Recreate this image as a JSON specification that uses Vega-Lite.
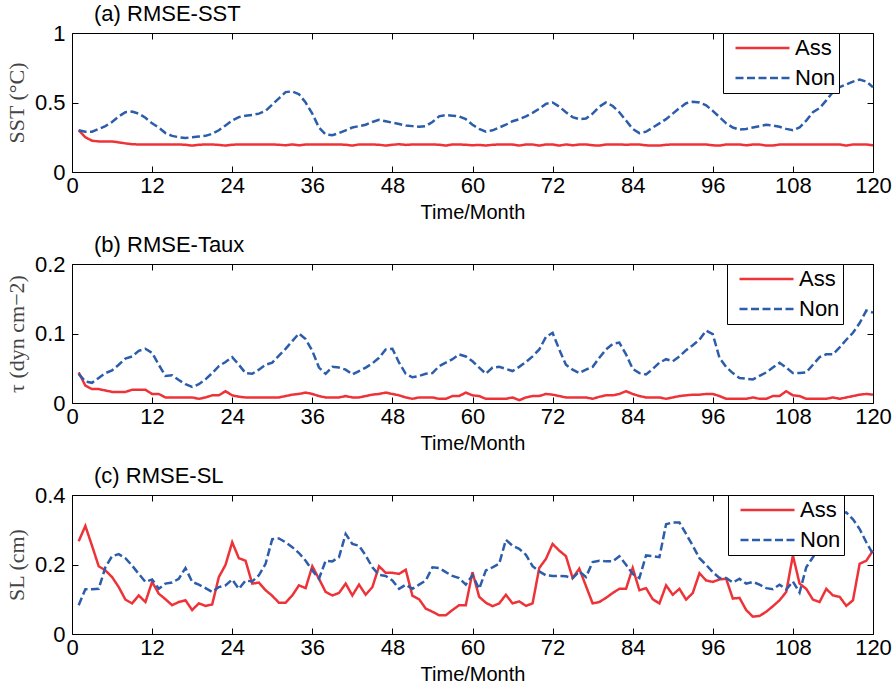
{
"$schema": "https://vega.github.io/schema/vega-lite/v6.json",
"padding": {"left": 5, "top": 3, "right": 0, "bottom": 0},
"spacing": 11,
"datasets": {
"sst": [
{"m":1,"Ass":0.30,"Non":0.30},{"m":2,"Ass":0.25,"Non":0.29},{"m":3,"Ass":0.225,"Non":0.29},{"m":4,"Ass":0.22,"Non":0.31},{"m":5,"Ass":0.22,"Non":0.33},{"m":6,"Ass":0.22,"Non":0.36},{"m":7,"Ass":0.213,"Non":0.40},{"m":8,"Ass":0.206,"Non":0.43},{"m":9,"Ass":0.20,"Non":0.435},{"m":10,"Ass":0.198,"Non":0.42},
{"m":11,"Ass":0.198,"Non":0.39},{"m":12,"Ass":0.198,"Non":0.35},{"m":13,"Ass":0.198,"Non":0.32},{"m":14,"Ass":0.198,"Non":0.28},{"m":15,"Ass":0.198,"Non":0.26},{"m":16,"Ass":0.198,"Non":0.25},{"m":17,"Ass":0.196,"Non":0.245},{"m":18,"Ass":0.19,"Non":0.25},{"m":19,"Ass":0.196,"Non":0.255},{"m":20,"Ass":0.198,"Non":0.26},
{"m":21,"Ass":0.198,"Non":0.275},{"m":22,"Ass":0.195,"Non":0.30},{"m":23,"Ass":0.19,"Non":0.335},{"m":24,"Ass":0.196,"Non":0.37},{"m":25,"Ass":0.198,"Non":0.395},{"m":26,"Ass":0.198,"Non":0.405},{"m":27,"Ass":0.198,"Non":0.41},{"m":28,"Ass":0.198,"Non":0.42},{"m":29,"Ass":0.198,"Non":0.44},{"m":30,"Ass":0.198,"Non":0.485},
{"m":31,"Ass":0.196,"Non":0.53},{"m":32,"Ass":0.192,"Non":0.575},{"m":33,"Ass":0.198,"Non":0.58},{"m":34,"Ass":0.192,"Non":0.56},{"m":35,"Ass":0.198,"Non":0.50},{"m":36,"Ass":0.198,"Non":0.42},{"m":37,"Ass":0.198,"Non":0.32},{"m":38,"Ass":0.198,"Non":0.27},{"m":39,"Ass":0.198,"Non":0.265},{"m":40,"Ass":0.198,"Non":0.28},
{"m":41,"Ass":0.196,"Non":0.30},{"m":42,"Ass":0.19,"Non":0.32},{"m":43,"Ass":0.198,"Non":0.33},{"m":44,"Ass":0.198,"Non":0.34},{"m":45,"Ass":0.198,"Non":0.36},{"m":46,"Ass":0.196,"Non":0.375},{"m":47,"Ass":0.19,"Non":0.365},{"m":48,"Ass":0.196,"Non":0.355},{"m":49,"Ass":0.2,"Non":0.345},{"m":50,"Ass":0.195,"Non":0.335},
{"m":51,"Ass":0.198,"Non":0.33},{"m":52,"Ass":0.198,"Non":0.325},{"m":53,"Ass":0.198,"Non":0.33},{"m":54,"Ass":0.198,"Non":0.36},{"m":55,"Ass":0.196,"Non":0.40},{"m":56,"Ass":0.19,"Non":0.41},{"m":57,"Ass":0.198,"Non":0.405},{"m":58,"Ass":0.198,"Non":0.40},{"m":59,"Ass":0.196,"Non":0.38},{"m":60,"Ass":0.192,"Non":0.34},
{"m":61,"Ass":0.195,"Non":0.31},{"m":62,"Ass":0.19,"Non":0.29},{"m":63,"Ass":0.196,"Non":0.30},{"m":64,"Ass":0.198,"Non":0.32},{"m":65,"Ass":0.198,"Non":0.34},{"m":66,"Ass":0.198,"Non":0.365},{"m":67,"Ass":0.19,"Non":0.38},{"m":68,"Ass":0.198,"Non":0.40},{"m":69,"Ass":0.198,"Non":0.425},{"m":70,"Ass":0.19,"Non":0.455},
{"m":71,"Ass":0.198,"Non":0.49},{"m":72,"Ass":0.198,"Non":0.50},{"m":73,"Ass":0.19,"Non":0.47},{"m":74,"Ass":0.198,"Non":0.43},{"m":75,"Ass":0.192,"Non":0.395},{"m":76,"Ass":0.198,"Non":0.38},{"m":77,"Ass":0.198,"Non":0.385},{"m":78,"Ass":0.192,"Non":0.42},{"m":79,"Ass":0.19,"Non":0.47},{"m":80,"Ass":0.198,"Non":0.50},
{"m":81,"Ass":0.198,"Non":0.475},{"m":82,"Ass":0.198,"Non":0.43},{"m":83,"Ass":0.196,"Non":0.37},{"m":84,"Ass":0.198,"Non":0.31},{"m":85,"Ass":0.198,"Non":0.28},{"m":86,"Ass":0.192,"Non":0.29},{"m":87,"Ass":0.19,"Non":0.32},{"m":88,"Ass":0.19,"Non":0.35},{"m":89,"Ass":0.196,"Non":0.38},{"m":90,"Ass":0.198,"Non":0.42},
{"m":91,"Ass":0.198,"Non":0.46},{"m":92,"Ass":0.198,"Non":0.495},{"m":93,"Ass":0.198,"Non":0.505},{"m":94,"Ass":0.198,"Non":0.50},{"m":95,"Ass":0.198,"Non":0.48},{"m":96,"Ass":0.192,"Non":0.44},{"m":97,"Ass":0.19,"Non":0.395},{"m":98,"Ass":0.198,"Non":0.35},{"m":99,"Ass":0.198,"Non":0.32},{"m":100,"Ass":0.198,"Non":0.305},
{"m":101,"Ass":0.192,"Non":0.31},{"m":102,"Ass":0.198,"Non":0.32},{"m":103,"Ass":0.198,"Non":0.33},{"m":104,"Ass":0.19,"Non":0.34},{"m":105,"Ass":0.19,"Non":0.335},{"m":106,"Ass":0.198,"Non":0.325},{"m":107,"Ass":0.198,"Non":0.31},{"m":108,"Ass":0.198,"Non":0.30},{"m":109,"Ass":0.198,"Non":0.32},{"m":110,"Ass":0.198,"Non":0.37},
{"m":111,"Ass":0.198,"Non":0.43},{"m":112,"Ass":0.198,"Non":0.46},{"m":113,"Ass":0.198,"Non":0.515},{"m":114,"Ass":0.198,"Non":0.575},{"m":115,"Ass":0.198,"Non":0.61},{"m":116,"Ass":0.19,"Non":0.63},{"m":117,"Ass":0.198,"Non":0.65},{"m":118,"Ass":0.198,"Non":0.665},{"m":119,"Ass":0.198,"Non":0.65},{"m":120,"Ass":0.192,"Non":0.61}
],
"taux": [
{"m":1,"Ass":0.044,"Non":0.042},{"m":2,"Ass":0.025,"Non":0.031},{"m":3,"Ass":0.020,"Non":0.029},{"m":4,"Ass":0.020,"Non":0.036},{"m":5,"Ass":0.018,"Non":0.043},{"m":6,"Ass":0.016,"Non":0.047},{"m":7,"Ass":0.016,"Non":0.055},{"m":8,"Ass":0.016,"Non":0.064},{"m":9,"Ass":0.019,"Non":0.067},{"m":10,"Ass":0.019,"Non":0.075},
{"m":11,"Ass":0.019,"Non":0.078},{"m":12,"Ass":0.013,"Non":0.072},{"m":13,"Ass":0.013,"Non":0.055},{"m":14,"Ass":0.008,"Non":0.039},{"m":15,"Ass":0.008,"Non":0.040},{"m":16,"Ass":0.008,"Non":0.033},{"m":17,"Ass":0.008,"Non":0.027},{"m":18,"Ass":0.008,"Non":0.023},{"m":19,"Ass":0.006,"Non":0.027},{"m":20,"Ass":0.008,"Non":0.034},
{"m":21,"Ass":0.011,"Non":0.043},{"m":22,"Ass":0.011,"Non":0.053},{"m":23,"Ass":0.017,"Non":0.059},{"m":24,"Ass":0.011,"Non":0.066},{"m":25,"Ass":0.009,"Non":0.055},{"m":26,"Ass":0.008,"Non":0.043},{"m":27,"Ass":0.008,"Non":0.042},{"m":28,"Ass":0.008,"Non":0.048},{"m":29,"Ass":0.008,"Non":0.055},{"m":30,"Ass":0.008,"Non":0.058},
{"m":31,"Ass":0.008,"Non":0.068},{"m":32,"Ass":0.010,"Non":0.078},{"m":33,"Ass":0.012,"Non":0.089},{"m":34,"Ass":0.013,"Non":0.100},{"m":35,"Ass":0.015,"Non":0.092},{"m":36,"Ass":0.013,"Non":0.075},{"m":37,"Ass":0.010,"Non":0.051},{"m":38,"Ass":0.008,"Non":0.042},{"m":39,"Ass":0.008,"Non":0.052},{"m":40,"Ass":0.008,"Non":0.051},
{"m":41,"Ass":0.010,"Non":0.048},{"m":42,"Ass":0.008,"Non":0.041},{"m":43,"Ass":0.008,"Non":0.046},{"m":44,"Ass":0.010,"Non":0.051},{"m":45,"Ass":0.012,"Non":0.057},{"m":46,"Ass":0.013,"Non":0.065},{"m":47,"Ass":0.015,"Non":0.077},{"m":48,"Ass":0.013,"Non":0.078},{"m":49,"Ass":0.011,"Non":0.058},{"m":50,"Ass":0.008,"Non":0.042},
{"m":51,"Ass":0.006,"Non":0.037},{"m":52,"Ass":0.008,"Non":0.039},{"m":53,"Ass":0.008,"Non":0.042},{"m":54,"Ass":0.008,"Non":0.043},{"m":55,"Ass":0.006,"Non":0.053},{"m":56,"Ass":0.006,"Non":0.058},{"m":57,"Ass":0.010,"Non":0.063},{"m":58,"Ass":0.010,"Non":0.070},{"m":59,"Ass":0.015,"Non":0.067},{"m":60,"Ass":0.011,"Non":0.060},
{"m":61,"Ass":0.010,"Non":0.051},{"m":62,"Ass":0.006,"Non":0.042},{"m":63,"Ass":0.006,"Non":0.051},{"m":64,"Ass":0.006,"Non":0.052},{"m":65,"Ass":0.006,"Non":0.049},{"m":66,"Ass":0.008,"Non":0.046},{"m":67,"Ass":0.004,"Non":0.052},{"m":68,"Ass":0.008,"Non":0.059},{"m":69,"Ass":0.010,"Non":0.067},{"m":70,"Ass":0.010,"Non":0.077},
{"m":71,"Ass":0.013,"Non":0.095},{"m":72,"Ass":0.012,"Non":0.101},{"m":73,"Ass":0.010,"Non":0.077},{"m":74,"Ass":0.008,"Non":0.055},{"m":75,"Ass":0.008,"Non":0.048},{"m":76,"Ass":0.008,"Non":0.043},{"m":77,"Ass":0.008,"Non":0.048},{"m":78,"Ass":0.006,"Non":0.052},{"m":79,"Ass":0.009,"Non":0.065},{"m":80,"Ass":0.011,"Non":0.077},
{"m":81,"Ass":0.011,"Non":0.085},{"m":82,"Ass":0.013,"Non":0.087},{"m":83,"Ass":0.017,"Non":0.070},{"m":84,"Ass":0.013,"Non":0.049},{"m":85,"Ass":0.010,"Non":0.043},{"m":86,"Ass":0.008,"Non":0.041},{"m":87,"Ass":0.008,"Non":0.049},{"m":88,"Ass":0.008,"Non":0.058},{"m":89,"Ass":0.006,"Non":0.063},{"m":90,"Ass":0.008,"Non":0.060},
{"m":91,"Ass":0.010,"Non":0.067},{"m":92,"Ass":0.011,"Non":0.076},{"m":93,"Ass":0.012,"Non":0.083},{"m":94,"Ass":0.012,"Non":0.091},{"m":95,"Ass":0.013,"Non":0.104},{"m":96,"Ass":0.013,"Non":0.099},{"m":97,"Ass":0.010,"Non":0.065},{"m":98,"Ass":0.006,"Non":0.052},{"m":99,"Ass":0.006,"Non":0.043},{"m":100,"Ass":0.006,"Non":0.036},
{"m":101,"Ass":0.006,"Non":0.035},{"m":102,"Ass":0.008,"Non":0.034},{"m":103,"Ass":0.006,"Non":0.039},{"m":104,"Ass":0.006,"Non":0.044},{"m":105,"Ass":0.010,"Non":0.051},{"m":106,"Ass":0.010,"Non":0.058},{"m":107,"Ass":0.017,"Non":0.051},{"m":108,"Ass":0.011,"Non":0.043},{"m":109,"Ass":0.010,"Non":0.043},{"m":110,"Ass":0.006,"Non":0.044},
{"m":111,"Ass":0.006,"Non":0.055},{"m":112,"Ass":0.006,"Non":0.066},{"m":113,"Ass":0.006,"Non":0.070},{"m":114,"Ass":0.008,"Non":0.070},{"m":115,"Ass":0.006,"Non":0.080},{"m":116,"Ass":0.008,"Non":0.091},{"m":117,"Ass":0.010,"Non":0.101},{"m":118,"Ass":0.012,"Non":0.115},{"m":119,"Ass":0.013,"Non":0.133},{"m":120,"Ass":0.012,"Non":0.130}
],
"sl": [
{"m":1,"Ass":0.267,"Non":0.083},{"m":2,"Ass":0.311,"Non":0.129},{"m":3,"Ass":0.254,"Non":0.129},{"m":4,"Ass":0.195,"Non":0.130},{"m":5,"Ass":0.183,"Non":0.192},{"m":6,"Ass":0.164,"Non":0.224},{"m":7,"Ass":0.135,"Non":0.230},{"m":8,"Ass":0.099,"Non":0.218},{"m":9,"Ass":0.088,"Non":0.197},{"m":10,"Ass":0.111,"Non":0.173},
{"m":11,"Ass":0.092,"Non":0.150},{"m":12,"Ass":0.150,"Non":0.157},{"m":13,"Ass":0.116,"Non":0.130},{"m":14,"Ass":0.100,"Non":0.145},{"m":15,"Ass":0.083,"Non":0.148},{"m":16,"Ass":0.092,"Non":0.159},{"m":17,"Ass":0.097,"Non":0.190},{"m":18,"Ass":0.069,"Non":0.150},{"m":19,"Ass":0.088,"Non":0.142},{"m":20,"Ass":0.081,"Non":0.132},
{"m":21,"Ass":0.085,"Non":0.121},{"m":22,"Ass":0.164,"Non":0.135},{"m":23,"Ass":0.199,"Non":0.140},{"m":24,"Ass":0.264,"Non":0.157},{"m":25,"Ass":0.218,"Non":0.130},{"m":26,"Ass":0.211,"Non":0.154},{"m":27,"Ass":0.145,"Non":0.151},{"m":28,"Ass":0.148,"Non":0.169},{"m":29,"Ass":0.126,"Non":0.202},{"m":30,"Ass":0.110,"Non":0.273},
{"m":31,"Ass":0.090,"Non":0.275},{"m":32,"Ass":0.090,"Non":0.264},{"m":33,"Ass":0.111,"Non":0.250},{"m":34,"Ass":0.140,"Non":0.233},{"m":35,"Ass":0.132,"Non":0.211},{"m":36,"Ass":0.195,"Non":0.183},{"m":37,"Ass":0.159,"Non":0.159},{"m":38,"Ass":0.121,"Non":0.211},{"m":39,"Ass":0.111,"Non":0.209},{"m":40,"Ass":0.118,"Non":0.221},
{"m":41,"Ass":0.145,"Non":0.288},{"m":42,"Ass":0.111,"Non":0.259},{"m":43,"Ass":0.142,"Non":0.254},{"m":44,"Ass":0.113,"Non":0.226},{"m":45,"Ass":0.135,"Non":0.192},{"m":46,"Ass":0.195,"Non":0.170},{"m":47,"Ass":0.176,"Non":0.167},{"m":48,"Ass":0.176,"Non":0.154},{"m":49,"Ass":0.173,"Non":0.130},{"m":50,"Ass":0.185,"Non":0.142},
{"m":51,"Ass":0.110,"Non":0.130},{"m":52,"Ass":0.100,"Non":0.142},{"m":53,"Ass":0.073,"Non":0.154},{"m":54,"Ass":0.064,"Non":0.192},{"m":55,"Ass":0.054,"Non":0.190},{"m":56,"Ass":0.054,"Non":0.178},{"m":57,"Ass":0.069,"Non":0.167},{"m":58,"Ass":0.083,"Non":0.161},{"m":59,"Ass":0.083,"Non":0.142},{"m":60,"Ass":0.178,"Non":0.169},
{"m":61,"Ass":0.107,"Non":0.130},{"m":62,"Ass":0.090,"Non":0.183},{"m":63,"Ass":0.080,"Non":0.192},{"m":64,"Ass":0.088,"Non":0.202},{"m":65,"Ass":0.113,"Non":0.271},{"m":66,"Ass":0.088,"Non":0.254},{"m":67,"Ass":0.094,"Non":0.245},{"m":68,"Ass":0.081,"Non":0.228},{"m":69,"Ass":0.088,"Non":0.195},{"m":70,"Ass":0.190,"Non":0.180},
{"m":71,"Ass":0.216,"Non":0.169},{"m":72,"Ass":0.259,"Non":0.167},{"m":73,"Ass":0.240,"Non":0.167},{"m":74,"Ass":0.224,"Non":0.166},{"m":75,"Ass":0.161,"Non":0.161},{"m":76,"Ass":0.188,"Non":0.180},{"m":77,"Ass":0.138,"Non":0.164},{"m":78,"Ass":0.088,"Non":0.207},{"m":79,"Ass":0.092,"Non":0.211},{"m":80,"Ass":0.104,"Non":0.209},
{"m":81,"Ass":0.118,"Non":0.209},{"m":82,"Ass":0.130,"Non":0.224},{"m":83,"Ass":0.130,"Non":0.199},{"m":84,"Ass":0.190,"Non":0.173},{"m":85,"Ass":0.126,"Non":0.161},{"m":86,"Ass":0.132,"Non":0.226},{"m":87,"Ass":0.100,"Non":0.224},{"m":88,"Ass":0.088,"Non":0.221},{"m":89,"Ass":0.140,"Non":0.316},{"m":90,"Ass":0.113,"Non":0.321},
{"m":91,"Ass":0.130,"Non":0.321},{"m":92,"Ass":0.099,"Non":0.288},{"m":93,"Ass":0.118,"Non":0.254},{"m":94,"Ass":0.175,"Non":0.218},{"m":95,"Ass":0.154,"Non":0.199},{"m":96,"Ass":0.150,"Non":0.178},{"m":97,"Ass":0.157,"Non":0.161},{"m":98,"Ass":0.159,"Non":0.161},{"m":99,"Ass":0.102,"Non":0.148},{"m":100,"Ass":0.104,"Non":0.159},
{"m":101,"Ass":0.069,"Non":0.145},{"m":102,"Ass":0.050,"Non":0.150},{"m":103,"Ass":0.052,"Non":0.142},{"m":104,"Ass":0.064,"Non":0.132},{"m":105,"Ass":0.080,"Non":0.129},{"m":106,"Ass":0.097,"Non":0.142},{"m":107,"Ass":0.121,"Non":0.128},{"m":108,"Ass":0.226,"Non":0.151},{"m":109,"Ass":0.145,"Non":0.119},{"m":110,"Ass":0.130,"Non":0.192},
{"m":111,"Ass":0.099,"Non":0.221},{"m":112,"Ass":0.092,"Non":0.250},{"m":113,"Ass":0.130,"Non":0.285},{"m":114,"Ass":0.111,"Non":0.315},{"m":115,"Ass":0.107,"Non":0.345},{"m":116,"Ass":0.081,"Non":0.350},{"m":117,"Ass":0.097,"Non":0.330},{"m":118,"Ass":0.202,"Non":0.302},{"m":119,"Ass":0.211,"Non":0.264},{"m":120,"Ass":0.240,"Non":0.230}
]
},
"vconcat": [
{
"title": {"text": "(a) RMSE-SST"},
"width": 801, "height": 139,
"data": {"name": "sst"},
"transform": [{"fold": ["Ass", "Non"], "as": ["series", "v"]}],
"layer": [
{"mark": {"type": "line", "strokeWidth": 2.5},
"encoding": {
"x": {"field": "m", "type": "quantitative", "scale": {"domain": [0, 120], "nice": false}, "axis": {"values": [0,12,24,36,48,60,72,84,96,108,120], "title": "Time/Month"}},
"y": {"field": "v", "type": "quantitative", "scale": {"domain": [0, 1], "nice": false}, "axis": {"values": [0, 0.5, 1], "format": "~g", "title": "SST (°C)"}},
"color": {"field": "series", "type": "nominal", "scale": {"domain": ["Ass", "Non"], "range": ["#EE3338", "#2C5DAB"]}, "legend": {"title": null, "orient": "none", "legendX": 651, "legendY": 0}},
"strokeDash": {"field": "series", "type": "nominal", "scale": {"domain": ["Ass", "Non"], "range": [[1, 0], [8, 3.5]]}, "legend": {"title": null, "orient": "none", "legendX": 651, "legendY": 0}}
}},
{"mark": {"type": "line", "opacity": 0},
"encoding": {
"x": {"field": "m", "type": "quantitative", "scale": {"domain": [0, 120], "nice": false}, "axis": {"orient": "top", "values": [0,12,24,36,48,60,72,84,96,108,120], "labels": false, "title": null}},
"y": {"field": "v", "type": "quantitative", "scale": {"domain": [0, 1], "nice": false}, "axis": {"orient": "right", "values": [0, 0.5, 1], "labels": false, "title": null}},
"detail": {"field": "series", "type": "nominal"}
}}
],
"resolve": {"axis": {"x": "independent", "y": "independent"}}
},
{
"title": {"text": "(b) RMSE-Taux"},
"width": 801, "height": 139,
"data": {"name": "taux"},
"transform": [{"fold": ["Ass", "Non"], "as": ["series", "v"]}],
"layer": [
{"mark": {"type": "line", "strokeWidth": 2.5},
"encoding": {
"x": {"field": "m", "type": "quantitative", "scale": {"domain": [0, 120], "nice": false}, "axis": {"values": [0,12,24,36,48,60,72,84,96,108,120], "title": "Time/Month"}},
"y": {"field": "v", "type": "quantitative", "scale": {"domain": [0, 0.2], "nice": false}, "axis": {"values": [0, 0.1, 0.2], "format": "~g", "title": "τ (dyn cm−2)"}},
"color": {"field": "series", "type": "nominal", "scale": {"domain": ["Ass", "Non"], "range": ["#EE3338", "#2C5DAB"]}, "legend": {"title": null, "orient": "none", "legendX": 655, "legendY": 0}},
"strokeDash": {"field": "series", "type": "nominal", "scale": {"domain": ["Ass", "Non"], "range": [[1, 0], [8, 3.5]]}, "legend": {"title": null, "orient": "none", "legendX": 655, "legendY": 0}}
}},
{"mark": {"type": "line", "opacity": 0},
"encoding": {
"x": {"field": "m", "type": "quantitative", "scale": {"domain": [0, 120], "nice": false}, "axis": {"orient": "top", "values": [0,12,24,36,48,60,72,84,96,108,120], "labels": false, "title": null}},
"y": {"field": "v", "type": "quantitative", "scale": {"domain": [0, 0.2], "nice": false}, "axis": {"orient": "right", "values": [0, 0.1, 0.2], "labels": false, "title": null}},
"detail": {"field": "series", "type": "nominal"}
}}
],
"resolve": {"axis": {"x": "independent", "y": "independent"}}
},
{
"title": {"text": "(c) RMSE-SL"},
"width": 801, "height": 139,
"data": {"name": "sl"},
"transform": [{"fold": ["Ass", "Non"], "as": ["series", "v"]}],
"layer": [
{"mark": {"type": "line", "strokeWidth": 2.5},
"encoding": {
"x": {"field": "m", "type": "quantitative", "scale": {"domain": [0, 120], "nice": false}, "axis": {"values": [0,12,24,36,48,60,72,84,96,108,120], "title": "Time/Month"}},
"y": {"field": "v", "type": "quantitative", "scale": {"domain": [0, 0.4], "nice": false}, "axis": {"values": [0, 0.2, 0.4], "format": "~g", "title": "SL (cm)"}},
"color": {"field": "series", "type": "nominal", "scale": {"domain": ["Ass", "Non"], "range": ["#EE3338", "#2C5DAB"]}, "legend": {"title": null, "orient": "none", "legendX": 656, "legendY": 0}},
"strokeDash": {"field": "series", "type": "nominal", "scale": {"domain": ["Ass", "Non"], "range": [[1, 0], [8, 3.5]]}, "legend": {"title": null, "orient": "none", "legendX": 656, "legendY": 0}}
}},
{"mark": {"type": "line", "opacity": 0},
"encoding": {
"x": {"field": "m", "type": "quantitative", "scale": {"domain": [0, 120], "nice": false}, "axis": {"orient": "top", "values": [0,12,24,36,48,60,72,84,96,108,120], "labels": false, "title": null}},
"y": {"field": "v", "type": "quantitative", "scale": {"domain": [0, 0.4], "nice": false}, "axis": {"orient": "right", "values": [0, 0.2, 0.4], "labels": false, "title": null}},
"detail": {"field": "series", "type": "nominal"}
}}
],
"resolve": {"axis": {"x": "independent", "y": "independent"}}
}
],
"resolve": {"scale": {"color": "independent", "strokeDash": "independent"}, "legend": {"color": "independent", "strokeDash": "independent"}},
"config": {
"view": {"stroke": null},
"background": "white",
"title": {"anchor": "start", "frame": "group", "font": "Liberation Sans", "fontSize": 22, "fontWeight": "normal", "color": "#000", "dx": 22, "offset": -4, "baseline": "alphabetic"},
"axis": {"grid": false, "domainColor": "#000", "domainWidth": 1, "tickColor": "#000", "tickWidth": 1, "tickSize": -6, "labelColor": "#000", "labelFont": "Liberation Sans", "labelFontSize": 22, "titleFont": "Liberation Sans", "titleFontSize": 20, "titleFontWeight": "normal", "titleColor": "#000", "labelOverlap": false},
"axisX": {"labelPadding": 9.5, "titlePadding": 6, "labelFlush": false},
"axisY": {"labelPadding": 13, "titlePadding": 6, "titleFont": "Liberation Serif", "titleFontSize": 22, "titleColor": "#444"},
"legend": {"strokeColor": "#000", "fillColor": "#fff", "strokeWidth": 1, "padding": 3, "clipHeight": 24, "rowPadding": 6, "symbolType": "stroke", "symbolSize": 2916, "symbolStrokeWidth": 2.5, "symbolOffset": 8, "labelOffset": 4, "labelFont": "Liberation Sans", "labelFontSize": 22, "labelColor": "#000", "labelLimit": 0}
}
}
